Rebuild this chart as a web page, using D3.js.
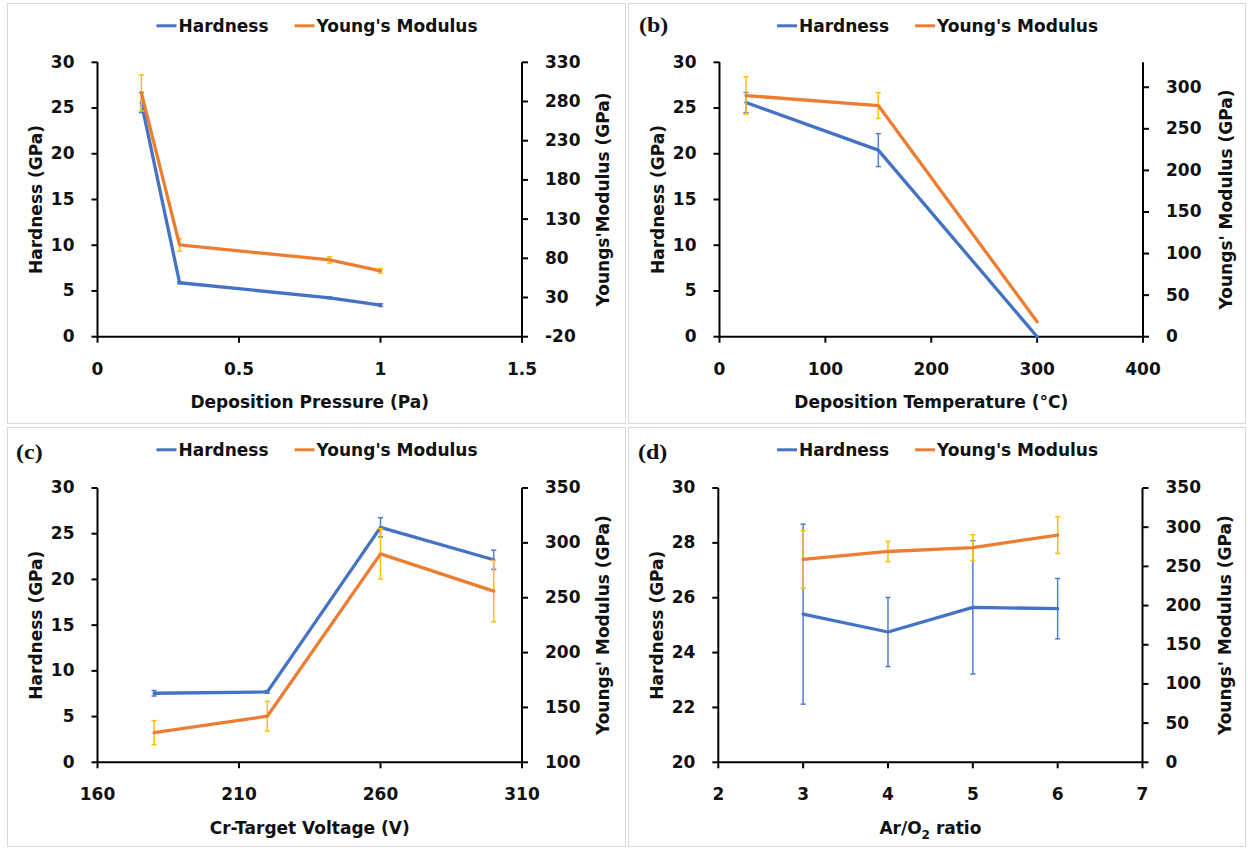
<!DOCTYPE html>
<html>
<head>
<meta charset="utf-8">
<script src="https://cdn.jsdelivr.net/npm/d3@7"></script>
<style>
  body { margin: 0; background: #fff; }
  svg { display: block; }
</style>
</head>
<body>
<svg id="chart" width="1248" height="848"></svg>
<script>
// ---- (a) deposition pressure series ----
const pressure = [0.155, 0.29, 0.82, 1.0];
const pressureHardness = [25.6, 5.9, 4.25, 3.45];
const pressureHardnessErr = [1.1, 0.1, 0.1, 0.15];
const pressureModulus = [291, 97, 78, 64];
const pressureModulusErr = [23, 8, 4, 3];

// ---- (b) deposition temperature series ----
const temperature = [25, 150, 300];
const temperatureHardness = [25.6, 20.4, 0];
const temperatureHardnessErr = [1.1, 1.8, 0];
const temperatureModulus = [290, 278, 18];
const temperatureModulusErr = [22.5, 15.5, 0];

// ---- (c) Cr-target voltage series ----
const voltage = [180, 220, 260, 300];
const voltageHardness = [7.55, 7.7, 25.7, 22.15];
const voltageHardnessErr = [0.3, 0.15, 1.05, 1.05];
const voltageModulus = [127, 142, 290, 256];
const voltageModulusErr = [11, 13.5, 23, 28];

// ---- (d) Ar/O2 ratio series ----
const arO2Ratio = [3, 4, 5, 6];
const ratioHardness = [25.4, 24.75, 25.65, 25.6];
const ratioHardnessErr = [3.28, 1.26, 2.43, 1.1];
const ratioModulus = [259, 269, 274, 290];
const ratioModulusErr = [36.5, 13, 16.5, 23.5];

// ---- tick values ----
const pressureTicks = [0, 0.5, 1, 1.5];
const temperatureTicks = [0, 100, 200, 300, 400];
const voltageTicks = [160, 210, 260, 310];
const ratioTicks = [2, 3, 4, 5, 6, 7];
const hardnessTicks = [0, 5, 10, 15, 20, 25, 30];
const hardnessTicksRatio = [20, 22, 24, 26, 28, 30];
const modulusTicksPressure = [-20, 30, 80, 130, 180, 230, 280, 330];
const modulusTicksTemperature = [0, 50, 100, 150, 200, 250, 300];
const modulusTicksVoltage = [100, 150, 200, 250, 300, 350];
const modulusTicksRatio = [0, 50, 100, 150, 200, 250, 300, 350];

// ---- labels ----
const legendLabels = ["Hardness", "Young's Modulus"];
const hardnessTitle = "Hardness (GPa)";

const COLORS = {
  hardness: "#4472C4",
  modulus: "#ED7D31",
  hardnessErr: "#4F7FD0",
  modulusErr: "#FFC000",
  frame: "#D9D9D9",
  text: "#111"
};
const FONT = "'DejaVu Sans', 'Liberation Sans', sans-serif";
const FONT_SIZE = 17;

const panels = [
  {
    tag: null,
    frame: [7, 3, 625, 423],
    plot: { l: 97.5, r: 522, t: 62.3, b: 336.7 },
    x: pressure, xDomain: [0, 1.5], xTicks: pressureTicks,
    h: pressureHardness, hErr: pressureHardnessErr, hDomain: [0, 30], hTicks: hardnessTicks,
    m: pressureModulus, mErr: pressureModulusErr, mDomain: [-20, 330], mTicks: modulusTicksPressure,
    xTitle: ["Deposition Pressure (Pa)"],
    mTitle: "Youngs'Modulus (GPa)",
    rightTitleOffset: 87
  },
  {
    tag: "(b)",
    frame: [628, 3, 1245, 423],
    plot: { l: 719.5, r: 1143, t: 62.3, b: 336.7 },
    x: temperature, xDomain: [0, 400], xTicks: temperatureTicks,
    h: temperatureHardness, hErr: temperatureHardnessErr, hDomain: [0, 30], hTicks: hardnessTicks,
    m: temperatureModulus, mErr: temperatureModulusErr, mDomain: [0, 330], mTicks: modulusTicksTemperature,
    xTitle: ["Deposition Temperature (°C)"],
    mTitle: "Youngs' Modulus (GPa)",
    rightTitleOffset: 89,
    tagPos: [639, 31.5]
  },
  {
    tag: "(c)",
    frame: [7, 427, 625, 846],
    plot: { l: 97.5, r: 522, t: 488, b: 762.3 },
    x: voltage, xDomain: [160, 310], xTicks: voltageTicks,
    h: voltageHardness, hErr: voltageHardnessErr, hDomain: [0, 30], hTicks: hardnessTicks,
    m: voltageModulus, mErr: voltageModulusErr, mDomain: [100, 350], mTicks: modulusTicksVoltage,
    xTitle: ["Cr-Target Voltage (V)"],
    mTitle: "Youngs' Modulus (GPa)",
    rightTitleOffset: 87,
    tagPos: [16, 458.5]
  },
  {
    tag: "(d)",
    frame: [628, 427, 1245, 846],
    plot: { l: 718.3, r: 1142.5, t: 488, b: 762.3 },
    x: arO2Ratio, xDomain: [2, 7], xTicks: ratioTicks,
    h: ratioHardness, hErr: ratioHardnessErr, hDomain: [20, 30], hTicks: hardnessTicksRatio,
    m: ratioModulus, mErr: ratioModulusErr, mDomain: [0, 350], mTicks: modulusTicksRatio,
    xTitle: ["Ar/O", "2", " ratio"],
    mTitle: "Youngs' Modulus (GPa)",
    rightTitleOffset: 88.5,
    tagPos: [638, 458.5]
  }
];

const svg = d3.select("#chart");

function styleText(sel) {
  return sel.attr("font-family", FONT)
    .attr("font-weight", "bold")
    .attr("font-size", FONT_SIZE)
    .attr("fill", COLORS.text);
}

function styleAxis(g) {
  g.attr("font-family", FONT).attr("font-size", FONT_SIZE).attr("font-weight", "bold");
  g.select(".domain").attr("stroke", "#000").attr("stroke-width", 2);
  g.selectAll(".tick line").attr("stroke", "#000").attr("stroke-width", 2);
  g.selectAll(".tick text").attr("fill", COLORS.text);
}

function drawErrorBars(g, xs, ys, errs, xScale, yScale, color) {
  const cap = 2.6;
  xs.forEach((xv, i) => {
    if (!errs[i]) return;
    const cx = xScale(xv);
    const y1 = yScale(ys[i] - errs[i]);
    const y2 = yScale(ys[i] + errs[i]);
    const eg = g.append("g").attr("stroke", color).attr("stroke-width", 1.5);
    eg.append("line").attr("x1", cx).attr("x2", cx).attr("y1", y1).attr("y2", y2);
    eg.append("line").attr("x1", cx - cap).attr("x2", cx + cap).attr("y1", y1).attr("y2", y1);
    eg.append("line").attr("x1", cx - cap).attr("x2", cx + cap).attr("y1", y2).attr("y2", y2);
  });
}

function drawSeries(g, xs, ys, xScale, yScale, color) {
  const line = d3.line().x((d, i) => xScale(xs[i])).y(d => yScale(d));
  g.append("path")
    .attr("d", line(ys))
    .attr("fill", "none")
    .attr("stroke", color)
    .attr("stroke-width", 3.3)
    .attr("stroke-linejoin", "round")
    .attr("stroke-linecap", "round");
}

function drawPanel(p) {
  const g = svg.append("g");
  const [fx0, fy0, fx1, fy1] = p.frame;

  g.append("rect")
    .attr("x", fx0 + 0.5).attr("y", fy0 + 0.5)
    .attr("width", fx1 - fx0).attr("height", fy1 - fy0)
    .attr("fill", "#fff").attr("stroke", COLORS.frame).attr("stroke-width", 1);

  const x = d3.scaleLinear().domain(p.xDomain).range([p.plot.l, p.plot.r]);
  const yH = d3.scaleLinear().domain(p.hDomain).range([p.plot.b, p.plot.t]);
  const yM = d3.scaleLinear().domain(p.mDomain).range([p.plot.b, p.plot.t]);
  const fmt = d => String(d);

  // axes
  const axB = g.append("g").attr("transform", `translate(0,${p.plot.b})`)
    .call(d3.axisBottom(x).tickValues(p.xTicks).tickFormat(fmt)
      .tickSizeInner(6).tickSizeOuter(0).tickPadding(20).offset(0));
  styleAxis(axB);

  const axL = g.append("g").attr("transform", `translate(${p.plot.l},0)`)
    .call(d3.axisLeft(yH).tickValues(p.hTicks).tickFormat(fmt)
      .tickSizeInner(6).tickSizeOuter(0).tickPadding(17).offset(0));
  styleAxis(axL);

  const axR = g.append("g").attr("transform", `translate(${p.plot.r},0)`)
    .call(d3.axisRight(yM).tickValues(p.mTicks).tickFormat(fmt)
      .tickSizeInner(6).tickSizeOuter(0).tickPadding(17).offset(0));
  styleAxis(axR);

  // series: hardness (primary) first, modulus (secondary) on top
  drawErrorBars(g, p.x, p.h, p.hErr, x, yH, COLORS.hardnessErr);
  drawSeries(g, p.x, p.h, x, yH, COLORS.hardness);
  drawErrorBars(g, p.x, p.m, p.mErr, x, yM, COLORS.modulusErr);
  drawSeries(g, p.x, p.m, x, yM, COLORS.modulus);

  // axis titles
  const cy = (p.plot.t + p.plot.b) / 2;
  const cx = (p.plot.l + p.plot.r) / 2;

  const xt = styleText(g.append("text"))
    .attr("x", cx).attr("y", p.plot.b + 71.5)
    .attr("text-anchor", "middle");
  if (p.xTitle.length === 1) {
    xt.text(p.xTitle[0]);
  } else {
    xt.append("tspan").text(p.xTitle[0]);
    xt.append("tspan").attr("font-size", 12).attr("dy", 5).text(p.xTitle[1]);
    xt.append("tspan").attr("dy", -5).text(p.xTitle[2]);
  }

  styleText(g.append("text"))
    .attr("transform", `translate(${p.plot.l - 55.5},${cy}) rotate(-90)`)
    .attr("text-anchor", "middle")
    .text(hardnessTitle);

  styleText(g.append("text"))
    .attr("transform", `translate(${p.plot.r + p.rightTitleOffset},${cy}) rotate(-90)`)
    .attr("text-anchor", "middle")
    .text(p.mTitle);

  // legend
  const legendY = fy0 + 29.3;
  const lg = g.append("g");
  const colors = [COLORS.hardness, COLORS.modulus];
  let cursor = 0;
  legendLabels.forEach((lab, i) => {
    const item = lg.append("g").attr("transform", `translate(${cursor},0)`);
    item.append("line")
      .attr("x1", 0).attr("x2", 20)
      .attr("y1", -6.5).attr("y2", -6.5)
      .attr("stroke", colors[i]).attr("stroke-width", 3);
    const t = styleText(item.append("text")).attr("x", 22).attr("y", 0).text(lab);
    const w = t.node().getComputedTextLength();
    cursor += 22 + w + (i === 0 ? 26 : 0);
  });
  const panelCenter = (fx0 + fx1) / 2 + 1;
  lg.attr("transform", `translate(${panelCenter - cursor / 2},${legendY})`);

  // panel tag
  if (p.tag) {
    g.append("text")
      .attr("transform", `translate(${p.tagPos[0]},${p.tagPos[1]}) scale(1.2,1)`)
      .attr("font-family", "'Liberation Serif', 'Times New Roman', serif")
      .attr("font-weight", "bold")
      .attr("font-size", 20)
      .attr("fill", "#111")
      .text(p.tag);
  }
}

panels.forEach(drawPanel);
</script>
</body>
</html>
